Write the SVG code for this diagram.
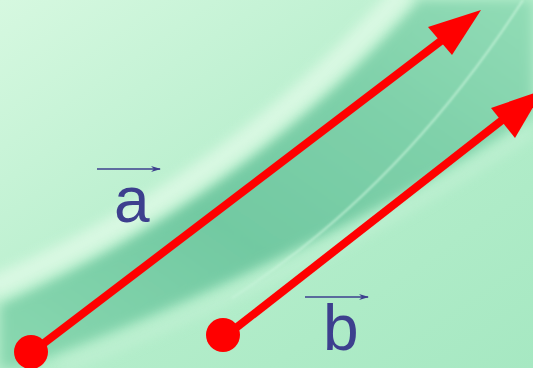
<svg xmlns="http://www.w3.org/2000/svg" width="533" height="368" viewBox="0 0 533 368">
  <defs>
    <linearGradient id="bg" x1="0" y1="0" x2="1" y2="1">
      <stop offset="0" stop-color="#d6f8e0"/>
      <stop offset="0.5" stop-color="#b6eecc"/>
      <stop offset="1" stop-color="#a6e8c2"/>
    </linearGradient>
    <linearGradient id="dark" x1="0" y1="1" x2="1" y2="0">
      <stop offset="0" stop-color="#8ad8b0"/>
      <stop offset="0.4" stop-color="#72c9a2"/>
      <stop offset="0.7" stop-color="#7ed0a9"/>
      <stop offset="1" stop-color="#92dcb6"/>
    </linearGradient>
    <filter id="blur" x="-20%" y="-20%" width="140%" height="140%">
      <feGaussianBlur stdDeviation="6"/>
    </filter>
    <filter id="blur2" x="-20%" y="-20%" width="140%" height="140%">
      <feGaussianBlur stdDeviation="1.2"/>
    </filter>
    <marker id="blueHead" viewBox="0 0 10 6" refX="9" refY="3" markerWidth="10" markerHeight="6" markerUnits="userSpaceOnUse" orient="auto">
      <path d="M0,0 L10,3 L0,6 L3,3 Z" fill="#3d3f8e"/>
    </marker>
    <style>
      .vec { stroke: #ff0000; stroke-width: 8; fill: none; }
      .head { fill: #ff0000; }
      .dot { fill: #ff0000; }
      .lbl { font-family: "Liberation Sans", Arial, sans-serif; font-size: 64px; fill: #3d3f8e; }
      .over { stroke: #3d3f8e; stroke-width: 1.6; fill: none; marker-end: url(#blueHead); }
    </style>
  </defs>

  <!-- background -->
  <rect x="0" y="0" width="533" height="368" fill="url(#bg)"/>
  <path d="M0,305 Q250,195 420,0 L533,0 L533,115 Q330,250 20,368 L0,368 Z" fill="url(#dark)" filter="url(#blur)"/>
  <path d="M-10,288 Q235,185 405,-10" stroke="#e2fbe8" stroke-width="22" fill="none" opacity="0.75" filter="url(#blur)"/>
  <path d="M232,298 Q400,190 523,0" stroke="#c8f4da" stroke-width="2" fill="none" opacity="0.8" filter="url(#blur2)"/>
  <path d="M60,368 Q330,265 533,130" stroke="#c4f2d6" stroke-width="12" fill="none" opacity="0.6" filter="url(#blur)"/>

  <g id="connectors">
    <line class="vec" x1="31" y1="353" x2="450" y2="34"/>
    <polygon class="head" points="481,10 428,27 452,55"/>
    <line class="vec" x1="223" y1="338" x2="510" y2="114"/>
    <polygon class="head" points="543,90 491,108 515,138"/>
  </g>

  <g id="vector-a">
    <circle class="dot" cx="31" cy="352" r="17"/>
    <line class="over" x1="97" y1="169" x2="160" y2="169"/>
    <text class="lbl" x="114" y="222">a</text>
  </g>

  <g id="vector-b">
    <circle class="dot" cx="223" cy="335" r="17"/>
    <line class="over" x1="305" y1="297" x2="368" y2="297"/>
    <text class="lbl" x="323" y="350">b</text>
  </g>
</svg>
